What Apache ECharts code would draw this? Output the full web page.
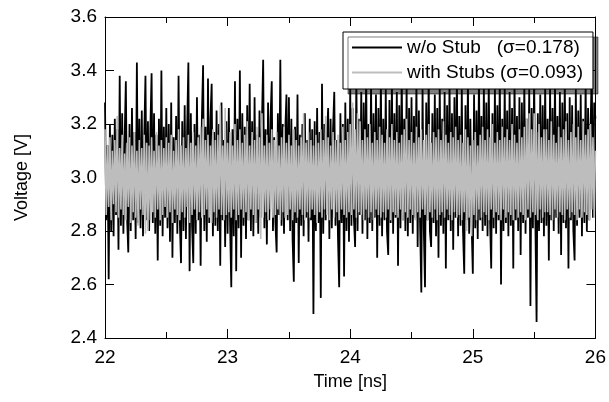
<!DOCTYPE html>
<html>
<head>
<meta charset="utf-8">
<script src="https://cdn.jsdelivr.net/npm/echarts@6/dist/echarts.min.js"></script>
<style>html,body{margin:0;padding:0;background:#fff;}#c{width:609px;height:402px;}</style>
</head>
<body>
<div id="c"></div>
<script>
var T0 = 22, DT = 0.01;
var xTicks = [22, 23, 24, 25, 26];
var yTicks = [2.4, 2.6, 2.8, 3.0, 3.2, 3.4, 3.6];
var seriesNames = ['w/o Stub   (\u03c3=0.178)', 'with Stubs (\u03c3=0.093)'];
var withoutStub = [
3.28,2.84,3.12,2.62,3.20,2.80,3.16,2.78,3.22,2.86,
3.18,2.73,3.38,2.82,3.24,2.79,3.14,3.36,2.85,2.72,
3.20,2.80,3.26,2.84,3.17,2.77,3.43,2.83,3.22,2.81,
3.25,2.78,3.15,3.38,2.84,3.21,2.80,3.18,3.39,2.83,
3.24,2.79,3.16,2.69,3.22,2.82,3.40,2.78,3.19,2.85,
3.26,2.81,3.20,2.76,3.28,2.70,3.15,2.83,3.23,2.79,
3.38,2.84,2.68,3.21,2.80,3.27,2.77,3.18,3.43,2.65,
3.24,2.82,2.68,3.20,2.79,3.30,2.84,3.16,2.67,3.22,
3.42,2.80,3.19,2.76,3.37,2.83,3.22,3.35,2.78,3.17,
2.82,3.25,2.80,3.20,2.67,3.28,2.84,3.14,2.74,3.21,
2.79,3.26,2.83,2.59,3.18,2.78,3.36,2.65,3.22,2.81,
3.40,2.70,3.24,2.82,3.19,2.77,3.27,2.84,3.35,2.80,
3.21,2.78,3.30,2.83,3.16,2.79,3.25,2.85,3.20,3.44,
2.81,3.18,2.75,3.28,2.84,3.22,3.36,2.80,3.15,2.83,
2.72,3.24,2.86,3.44,2.82,3.20,2.79,3.17,3.31,2.84,
3.30,2.80,3.22,2.77,2.61,3.19,2.83,3.31,2.68,3.16,
2.82,3.20,2.78,3.24,2.85,3.14,2.76,3.22,2.84,3.18,
2.49,3.21,2.80,3.26,2.83,3.17,2.55,3.35,2.79,3.20,
2.84,3.15,3.26,2.77,3.22,2.81,3.18,3.32,2.82,3.14,
2.78,2.59,3.24,2.83,3.20,2.63,3.28,2.80,3.22,2.76,
3.34,2.82,3.26,2.85,2.74,3.38,2.80,3.22,2.86,3.32,
2.79,3.28,2.84,3.40,2.77,3.20,2.83,3.35,2.80,3.24,
2.85,3.31,2.70,3.26,2.82,3.37,2.78,3.22,2.84,3.33,
2.80,2.71,3.29,2.83,3.36,2.79,3.24,2.85,3.32,2.67,
3.27,2.81,3.39,2.84,3.22,2.80,3.34,2.78,3.26,2.83,
3.30,2.79,3.23,2.85,3.36,2.74,3.25,2.82,2.57,3.33,
2.81,2.59,3.28,2.84,3.38,2.80,2.74,3.24,2.83,3.31,
2.78,3.26,2.70,3.35,2.82,3.22,2.79,3.32,2.66,3.27,
2.84,3.36,2.80,3.24,2.73,3.30,2.85,3.38,2.78,3.23,
2.82,3.33,2.80,2.64,3.27,2.84,3.36,2.79,3.22,2.83,
2.64,3.31,2.81,3.25,2.77,3.39,2.84,3.23,2.80,3.34,
2.82,3.28,2.78,3.36,2.85,2.66,3.24,2.81,3.33,2.79,
3.27,2.84,3.38,2.60,3.22,2.80,3.35,2.83,3.25,2.78,
3.32,2.82,3.26,2.66,3.37,2.84,3.23,2.80,3.30,2.71,
3.28,2.83,3.36,2.79,3.22,2.85,3.33,2.52,3.26,2.81,
3.38,2.84,2.46,3.24,2.80,3.31,2.83,3.27,2.78,3.35,
2.82,3.22,2.69,3.34,2.84,3.26,2.80,3.37,2.85,3.23,
2.79,3.32,2.71,3.28,2.83,3.36,2.81,3.24,2.66,3.30,
2.84,3.27,2.80,2.69,3.33,2.82,3.25,2.85,3.31,2.78,
3.22,2.83,3.36,2.80,3.26,2.84,3.18,3.40,2.85,3.28,
3.22
];
var withStubs = [
3.18,2.86,3.12,2.89,3.15,2.84,3.10,2.90,3.14,2.87,
3.23,2.85,3.11,2.88,3.16,2.86,3.09,2.84,3.13,2.89,
3.15,2.83,3.12,2.87,3.17,2.85,3.10,2.82,3.14,2.88,
3.11,2.86,3.16,2.79,3.13,2.80,3.12,2.84,3.15,2.87,
3.10,2.85,3.17,2.88,3.12,2.84,3.14,2.86,3.11,2.89,
3.15,2.85,3.13,2.87,3.16,2.83,3.10,2.88,3.14,2.86,
3.18,2.84,3.12,2.87,3.15,2.85,3.11,2.89,3.16,2.83,
3.13,2.86,3.17,2.88,3.12,2.84,3.15,2.87,3.19,2.85,
3.22,2.86,3.14,2.88,3.16,2.85,3.12,2.83,3.18,2.87,
3.14,2.85,3.16,2.88,3.27,2.86,3.12,2.84,3.26,2.86,
3.13,2.87,3.17,2.85,3.12,2.88,3.20,2.84,3.14,2.86,
3.18,2.88,3.13,2.85,3.16,2.87,3.21,2.84,3.12,2.88,
3.17,2.86,3.14,2.83,3.19,2.88,3.15,2.77,3.24,2.85,
3.12,2.87,3.16,2.84,3.13,2.88,3.18,2.85,3.14,2.86,
3.17,2.88,3.12,2.84,3.15,2.87,3.19,2.85,3.13,2.86,
3.16,2.88,3.12,2.84,3.18,2.87,3.14,2.85,3.12,2.88,
3.15,2.86,3.24,2.84,3.13,2.87,3.17,2.85,3.14,2.88,
3.12,2.86,3.16,2.83,3.13,2.87,3.18,2.85,3.14,2.88,
3.23,2.86,3.15,2.84,3.12,2.88,3.17,2.85,3.14,2.87,
3.16,2.84,3.13,2.88,3.19,2.86,3.14,2.85,3.17,2.87,
3.20,2.86,3.28,2.88,3.18,2.85,3.24,2.87,3.21,2.86,
3.14,2.84,3.18,2.88,3.15,2.85,3.20,2.87,3.13,2.84,
3.17,2.88,3.14,2.86,3.19,2.85,3.16,2.87,3.13,2.85,
3.18,2.88,3.15,2.84,3.20,2.87,3.14,2.86,3.17,2.85,
3.13,2.88,3.16,2.84,3.18,2.87,3.22,2.85,3.14,2.88,
3.17,2.86,3.13,2.84,3.19,2.87,3.15,2.85,3.18,2.88,
3.14,2.86,3.16,2.84,3.20,2.87,3.13,2.85,3.17,2.88,
3.15,2.84,3.18,2.86,3.14,2.87,3.21,2.85,3.16,2.88,
3.13,2.86,3.17,2.84,3.15,2.87,3.19,2.85,3.14,2.86,
3.16,2.84,3.13,2.87,3.18,2.80,3.15,2.85,3.12,2.78,
3.14,2.86,3.17,2.84,3.12,2.88,3.16,2.85,3.19,2.87,
3.14,2.86,3.18,2.84,3.15,2.88,3.20,2.85,3.13,2.87,
3.17,2.86,3.14,2.84,3.19,2.88,3.15,2.85,3.18,2.87,
3.14,2.86,3.20,2.84,3.16,2.88,3.13,2.85,3.18,2.87,
3.15,2.86,3.19,2.84,3.22,2.88,3.24,2.85,3.18,2.87,
3.24,2.86,3.17,2.84,3.20,2.88,3.15,2.85,3.18,2.87,
3.18,2.87,3.14,2.86,3.21,2.84,3.16,2.88,3.13,2.85,
3.19,2.87,3.15,2.86,3.18,2.84,3.21,2.88,3.14,2.85,
3.17,2.87,3.20,2.86,3.15,2.84,3.19,2.88,3.14,2.85,
3.21,2.87,3.16,2.86,3.18,2.84,3.20,2.88,3.15,2.85,
3.10
];

function pairs(arr) {
  return arr.map(function (v, i) { return [+(T0 + i * DT).toFixed(4), v]; });
}

var FONT = '"Liberation Sans", Arial, sans-serif';
var chart = echarts.init(document.getElementById('c'), null, {renderer: 'canvas'});

var baseX = {
  type: 'value', min: xTicks[0], max: xTicks[xTicks.length - 1], interval: 1,
  axisLine: {show: true, onZero: false, lineStyle: {color: '#000', width: 1}},
  axisTick: {show: true, inside: true, length: 9, lineStyle: {color: '#000'}},
  minorTick: {show: true, splitNumber: 2, length: 6, lineStyle: {color: '#000'}},
  splitLine: {show: false}
};
var baseY = {
  type: 'value', min: yTicks[0], max: yTicks[yTicks.length - 1], interval: 0.2,
  axisLine: {show: true, onZero: false, lineStyle: {color: '#000', width: 1}},
  axisTick: {show: true, inside: true, length: 9, lineStyle: {color: '#000'}},
  splitLine: {show: false}
};

chart.setOption({
  animation: false,
  backgroundColor: '#fff',
  grid: {left: 105, right: 11, top: 17, bottom: 64},
  legend: {
    orient: 'vertical', left: 343, top: 32,
    data: seriesNames,
    icon: 'rect', itemWidth: 50, itemHeight: 2, itemGap: 6,
    padding: [6, 10, 7, 9],
    backgroundColor: '#fff', borderColor: '#000', borderWidth: 1,
    shadowColor: 'rgba(0,0,0,0.5)', shadowBlur: 0, shadowOffsetX: 5, shadowOffsetY: 5,
    textStyle: {fontFamily: FONT, fontSize: 19, color: '#000'},
    selectedMode: false
  },
  xAxis: [
    Object.assign({}, baseX, {
      position: 'bottom',
      name: 'Time [ns]', nameLocation: 'middle', nameGap: 35,
      nameTextStyle: {fontFamily: FONT, fontSize: 18, color: '#000'},
      axisLabel: {show: true, margin: 10, fontFamily: FONT, fontSize: 19, color: '#000',
        formatter: function (v) { return String(v); }}
    }),
    Object.assign({}, baseX, {position: 'top', axisLabel: {show: false}})
  ],
  yAxis: [
    Object.assign({}, baseY, {
      position: 'left',
      name: 'Voltage [V]', nameLocation: 'middle', nameGap: 74,
      nameTextStyle: {fontFamily: FONT, fontSize: 18, color: '#000'},
      axisLabel: {show: true, margin: 8, fontFamily: FONT, fontSize: 19, color: '#000',
        formatter: function (v) { return v.toFixed(1); }}
    }),
    Object.assign({}, baseY, {position: 'right', axisLabel: {show: false}})
  ],
  series: [
    {
      name: seriesNames[0], type: 'line', xAxisIndex: 0, yAxisIndex: 0,
      data: pairs(withoutStub), showSymbol: false, symbol: 'none',
      lineStyle: {color: '#000', width: 1.8}, itemStyle: {color: '#000'}, z: 2
    },
    {
      name: seriesNames[1], type: 'line', xAxisIndex: 0, yAxisIndex: 0,
      data: pairs(withStubs), showSymbol: false, symbol: 'none',
      lineStyle: {color: '#bdbdbd', width: 1.6}, itemStyle: {color: '#bdbdbd'}, z: 3
    }
  ]
});
</script>
</body>
</html>
